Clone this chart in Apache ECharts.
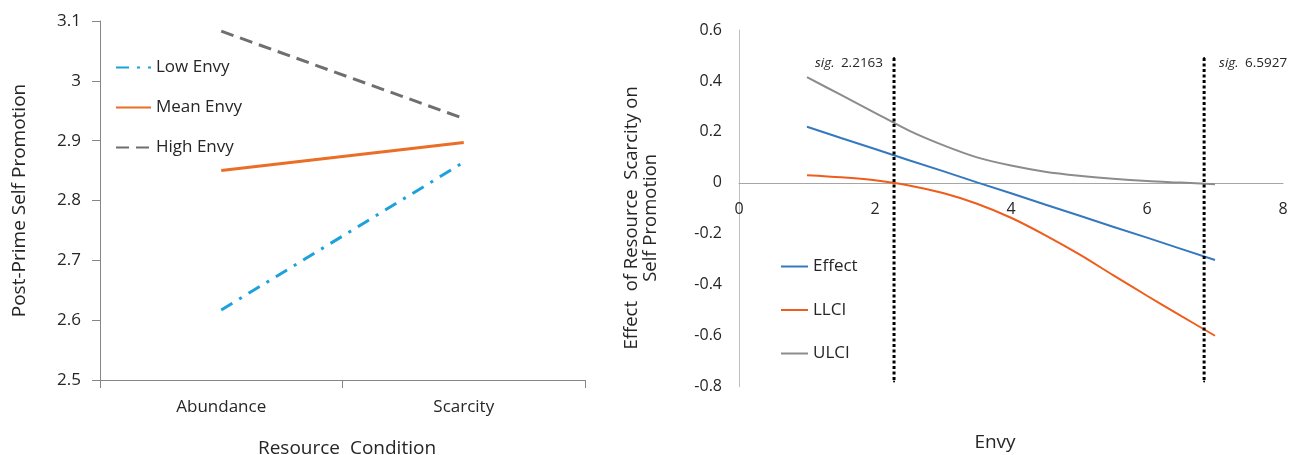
<!DOCTYPE html>
<html>
<head>
<meta charset="utf-8">
<script src="https://cdn.jsdelivr.net/npm/echarts@6/dist/echarts.min.js"></script>
<style>
html,body{margin:0;padding:0;background:#fff;}
#chart{width:1290px;height:455px;}
</style>
</head>
<body>
<div id="chart"></div>
<script>
// ---- Left panel data ----
const categories = ['Abundance', 'Scarcity'];
const lowEnvy = [2.617, 2.864];
const meanEnvy = [2.850, 2.897];
const highEnvy = [3.083, 2.937];

// ---- Right panel data (Johnson-Neyman) ----
const envyX = [1, 1.5, 2, 2.5, 3, 3.5, 4, 4.5, 5, 5.5, 6, 6.5, 7];
const effect = [0.220, 0.176, 0.133, 0.089, 0.046, 0.002, -0.041, -0.085, -0.128, -0.172, -0.215, -0.259, -0.303];
const llci = [0.030, 0.022, 0.010, -0.010, -0.040, -0.082, -0.137, -0.205, -0.280, -0.362, -0.443, -0.522, -0.600];
const ulci = [0.415, 0.345, 0.275, 0.205, 0.148, 0.100, 0.068, 0.044, 0.028, 0.016, 0.007, 0.001, -0.005];

// significance boundaries (drawn position, printed label)
const sigX = [2.28, 6.84];
const sigLabels = ['2.2163', '6.5927'];
const sigSpan = [0.49, -0.78];

const textColor = '#262626';
const fontFam = '"Open Sans", "Noto Sans", sans-serif';

function pairs(xs, ys) { return xs.map((x, i) => [x, ys[i]]); }

const chart = echarts.init(document.getElementById('chart'), null, {renderer: 'canvas'});

const sigSeries = sigX.map((x, i) => ({
  name: 'sig' + i,
  type: 'line',
  xAxisIndex: 1, yAxisIndex: 1,
  symbol: 'circle', symbolSize: 2,
  itemStyle: {color: '#000'},
  lineStyle: {color: '#000', width: 3, type: [3, 2.5]},
  silent: true,
  z: 5,
  data: [
    {
      value: [x, sigSpan[0]],
      label: {
        show: true,
        position: i === 0 ? 'left' : 'right',
        distance: i === 0 ? 10 : 14,
        offset: [0, 5],
        formatter: '{i|sig.}  {n|' + sigLabels[i] + '}',
        rich: {
          i: {fontStyle: 'italic', fontSize: 13.5, color: textColor, fontFamily: fontFam},
          n: {fontSize: 13.5, color: textColor, fontFamily: fontFam}
        }
      }
    },
    [x, sigSpan[1]]
  ]
}));

const legendCommon = {
  orient: 'vertical',
  itemHeight: 18,
  textStyle: {fontSize: 17, color: textColor, fontFamily: fontFam},
  itemStyle: {opacity: 0, borderWidth: 0},
  selectedMode: false
};

const option = {
  animation: false,
  backgroundColor: '#fff',
  textStyle: {fontFamily: fontFam, color: textColor},
  grid: [
    {left: 100, top: 21, width: 485, height: 359, outerBoundsMode: 'none', containLabel: false},
    {left: 739, top: 30, width: 544, height: 356.7, outerBoundsMode: 'none', containLabel: false}
  ],
  legend: [
    Object.assign({}, legendCommon, {
      data: ['Low Envy', 'Mean Envy', 'High Envy'],
      left: 110, top: 54,
      itemWidth: 35, itemGap: 23
    }),
    Object.assign({}, legendCommon, {
      data: ['Effect', 'LLCI', 'ULCI'],
      left: 775, top: 253,
      itemWidth: 27, itemGap: 26.5
    })
  ],
  xAxis: [
    {
      gridIndex: 0,
      type: 'category',
      data: categories,
      boundaryGap: true,
      name: 'Resource  Condition',
      nameLocation: 'middle',
      nameGap: 59,
      nameTextStyle: {fontSize: 19, color: textColor, padding: [0, 0, 0, 9]},
      axisLine: {lineStyle: {color: '#868686', width: 1}},
      axisTick: {show: true, length: 8, lineStyle: {color: '#868686'}},
      axisLabel: {fontSize: 17, color: textColor, margin: 19},
      splitLine: {show: false}
    },
    {
      gridIndex: 1,
      type: 'value',
      min: 0, max: 8, interval: 2,
      position: 'bottom',
      offset: -203.8,
      name: 'Envy',
      nameLocation: 'middle',
      nameGap: 250,
      nameTextStyle: {fontSize: 19, color: textColor, padding: [0, 32, 0, 0]},
      axisLine: {onZero: false, lineStyle: {color: '#a6a6a6', width: 1}},
      axisTick: {show: false},
      axisLabel: {fontSize: 16, color: textColor, margin: 19},
      splitLine: {show: false}
    }
  ],
  yAxis: [
    {
      gridIndex: 0,
      type: 'value',
      min: 2.5, max: 3.1, interval: 0.1,
      name: 'Post-Prime Self Promotion',
      nameLocation: 'middle',
      nameGap: 71,
      nameTextStyle: {fontSize: 19, color: textColor},
      axisLine: {show: true, lineStyle: {color: '#868686', width: 1}},
      axisTick: {show: true, length: 8, lineStyle: {color: '#868686'}},
      axisLabel: {fontSize: 17, color: textColor, margin: 19},
      splitLine: {show: false}
    },
    {
      gridIndex: 1,
      type: 'value',
      min: -0.8, max: 0.6, interval: 0.2,
      name: 'Effect  of Resource  Scarcity on\nSelf Promotion',
      nameLocation: 'middle',
      nameGap: 79,
      nameTextStyle: {fontSize: 18.5, color: textColor, lineHeight: 19, padding: [0, 19, 0, 0]},
      axisLine: {show: true, lineStyle: {color: '#bfbfbf', width: 1}},
      axisTick: {show: false},
      axisLabel: {fontSize: 16, color: textColor, margin: 17},
      splitLine: {show: false}
    }
  ],
  series: [
    {
      name: 'Low Envy', type: 'line', xAxisIndex: 0, yAxisIndex: 0,
      symbol: 'none', data: lowEnvy,
      itemStyle: {color: '#1ba1dc'},
      lineStyle: {color: '#1ba1dc', width: 3, type: [13, 8, 3, 8]}
    },
    {
      name: 'Mean Envy', type: 'line', xAxisIndex: 0, yAxisIndex: 0,
      symbol: 'none', data: meanEnvy,
      itemStyle: {color: '#ea6e25'},
      lineStyle: {color: '#ea6e25', width: 3}
    },
    {
      name: 'High Envy', type: 'line', xAxisIndex: 0, yAxisIndex: 0,
      symbol: 'none', data: highEnvy,
      itemStyle: {color: '#6f6f6f'},
      lineStyle: {color: '#6f6f6f', width: 3, type: [13, 7]}
    },
    {
      name: 'Effect', type: 'line', xAxisIndex: 1, yAxisIndex: 1,
      symbol: 'none', data: pairs(envyX, effect),
      itemStyle: {color: '#3678c0'},
      lineStyle: {color: '#3678c0', width: 2}
    },
    {
      name: 'LLCI', type: 'line', xAxisIndex: 1, yAxisIndex: 1,
      symbol: 'none', smooth: 0.3, data: pairs(envyX, llci),
      itemStyle: {color: '#ef5d1c'},
      lineStyle: {color: '#ef5d1c', width: 2}
    },
    {
      name: 'ULCI', type: 'line', xAxisIndex: 1, yAxisIndex: 1,
      symbol: 'none', smooth: 0.3, data: pairs(envyX, ulci),
      itemStyle: {color: '#8c8c8c'},
      lineStyle: {color: '#8c8c8c', width: 2}
    }
  ].concat(sigSeries)
};

chart.setOption(option);
</script>
</body>
</html>
